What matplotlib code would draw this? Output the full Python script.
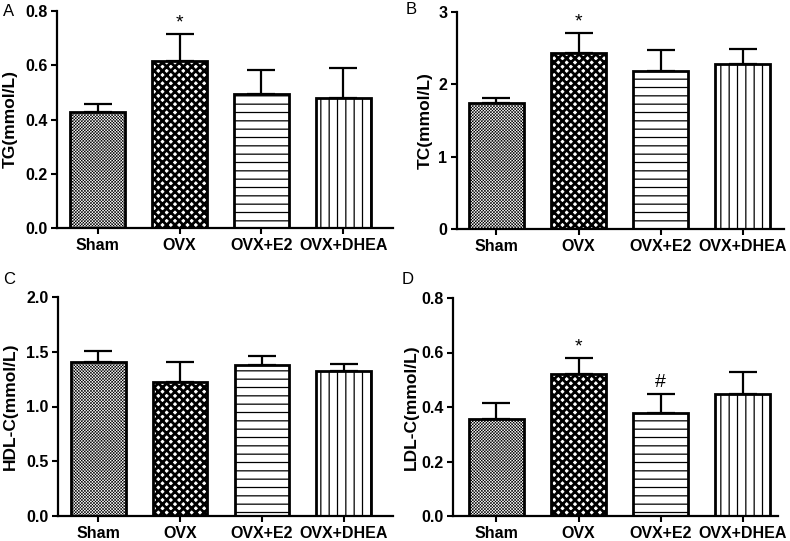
import numpy as np
import matplotlib
matplotlib.use("Agg")
import matplotlib.pyplot as plt

plt.rcParams['font.family'] = ['Liberation Sans', 'DejaVu Sans']

# group names
groups = ["Sham", "OVX", "OVX+E2", "OVX+DHEA"]

# means and SD (upper bar only)
tg_mean = [0.428, 0.616, 0.494, 0.480]
tg_err = [0.030, 0.100, 0.089, 0.110]
tc_mean = [1.74, 2.43, 2.19, 2.28]
tc_err = [0.07, 0.28, 0.29, 0.21]
hdl_mean = [1.41, 1.22, 1.38, 1.32]
hdl_err = [0.10, 0.19, 0.08, 0.07]
ldl_mean = [0.355, 0.522, 0.378, 0.448]
ldl_err = [0.059, 0.058, 0.069, 0.079]

# significance marks: index -> symbol
tg_marks = {1: "*"}
tc_marks = {1: "*"}
hdl_marks = {}
ldl_marks = {1: "*", 2: "#"}

hatches = ["x" * 11, "xxxx", "--", "||"]
hatch_lw = [0.4, 2.0, 0.9, 0.9]

W, H = 790, 541
fig = plt.figure(figsize=(W / 100, H / 100), dpi=100)


def px_axes(left, right, top, bottom):
    return fig.add_axes([left / W, 1 - bottom / H, (right - left) / W, (bottom - top) / H])


def panel(ax, mean, err, marks, ylabel, ymax, yticks, fmt, xlim, letter, letter_xy, label_x):
    x = np.arange(len(groups))
    ax.errorbar(x, mean, yerr=[np.zeros(len(err)), err], fmt='none', ecolor='black',
                elinewidth=1.6, capsize=10, capthick=1.6, zorder=1)
    bars = ax.bar(x, mean, width=0.67, color='white', edgecolor='black', linewidth=2.0, zorder=2)
    for b, h, lw in zip(bars, hatches, hatch_lw):
        b.set_hatch(h)
        if hasattr(b, "set_hatch_linewidth"):
            b.set_hatch_linewidth(lw)
    for i, s in marks.items():
        ax.annotate(s, (x[i], mean[i] + err[i]), xytext=(0, 2), textcoords='offset points',
                    ha='center', va='bottom', fontsize=14)
    ax.set_xlim(*xlim)
    ax.set_ylim(0, ymax)
    ax.set_yticks(yticks)
    ax.set_yticklabels([fmt.format(v) for v in yticks])
    ax.set_xticks(x)
    ax.set_xticklabels(groups)
    for lab in ax.get_xticklabels() + ax.get_yticklabels():
        lab.set_fontweight('bold')
        lab.set_fontsize(11.5)
    ax.tick_params(width=1.5, length=4, pad=3)
    ax.spines['top'].set_visible(False)
    ax.spines['right'].set_visible(False)
    ax.spines['left'].set_linewidth(1.6)
    ax.spines['bottom'].set_linewidth(1.6)
    ax.set_ylabel(ylabel, fontweight='bold', fontsize=12.5)
    ax.yaxis.set_label_coords(label_x, 0.5)
    fig.text(letter_xy[0] / W, 1 - letter_xy[1] / H, letter, fontsize=12, ha='center', va='center')


axA = px_axes(57, 393, 11, 228)
panel(axA, tg_mean, tg_err, tg_marks, "TG(mmol/L)", 0.8, [0, 0.2, 0.4, 0.6, 0.8], "{:.1f}",
      (-0.50, 3.61), "A", (9, 12), -0.116)

axB = px_axes(457, 784, 12, 229)
panel(axB, tc_mean, tc_err, tc_marks, "TC(mmol/L)", 3, [0, 1, 2, 3], "{:.0f}",
      (-0.48, 3.50), "B", (411, 10), -0.074)

axC = px_axes(58, 393, 297, 516)
panel(axC, hdl_mean, hdl_err, hdl_marks, "HDL-C(mmol/L)", 2.0, [0, 0.5, 1.0, 1.5, 2.0], "{:.1f}",
      (-0.49, 3.60), "C", (9, 280), -0.12)

axD = px_axes(453, 778, 298, 516)
panel(axD, ldl_mean, ldl_err, ldl_marks, "LDL-C(mmol/L)", 0.8, [0, 0.2, 0.4, 0.6, 0.8], "{:.1f}",
      (-0.53, 3.43), "D", (408, 279), -0.106)

fig.savefig("out.png", dpi=100)
